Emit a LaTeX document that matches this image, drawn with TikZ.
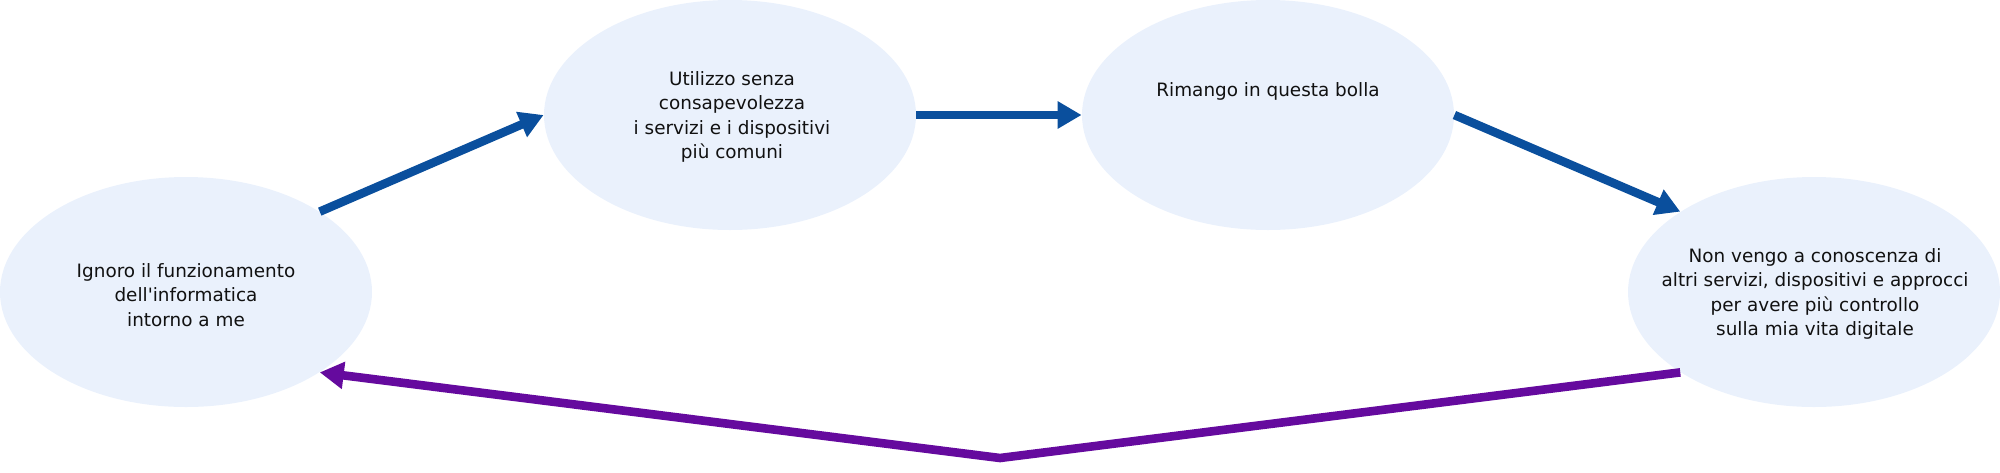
\documentclass[tikz,border=0pt]{standalone}
\usepackage{fontspec}
\setmainfont{DejaVu Sans}[Ligatures=TeXOff]
\usetikzlibrary{shapes.geometric,arrows.meta}
\definecolor{bubble}{HTML}{EAF1FC}
\definecolor{flowblue}{HTML}{0A4F9D}
\definecolor{flowpurple}{HTML}{650A9E}
\definecolor{txt}{HTML}{111111}
\tikzset{
  bubblenode/.style={ellipse, fill=bubble, draw=none, minimum width=186pt, minimum height=115pt, inner sep=0pt},
  labeltext/.style={align=center, text=txt, font=\fontsize{9.2pt}{12.3pt}\selectfont, inner sep=0pt},
  bluearrow/.style={draw=flowblue, line width=4.3pt, -{Triangle[length=12pt,width=13pt]}},
  purplearrow/.style={draw=flowpurple, line width=4.3pt, -{Triangle[length=12pt,width=13pt]}}
}
\begin{document}
\begin{tikzpicture}[x=0.5pt,y=-0.5pt]
\useasboundingbox (0,0) rectangle (2000,472);
\node[bubblenode] (e1) at (186,292) {};
\node[bubblenode] (e2) at (730,115) {};
\node[bubblenode] (e3) at (1268,115) {};
\node[bubblenode] (e4) at (1814,292) {};
\node[labeltext] (t1) at (186,295) {Ignoro il funzionamento\\dell'informatica\\intorno a me};
\node[labeltext] (t2) at (732,117) {Utilizzo senza\\consapevolezza\\i servizi e i dispositivi\\più comuni};
\node[labeltext] (t3) at (1268,91) {Rimango in questa bolla};
\node[labeltext] (t4) at (1815,294) {Non vengo a conoscenza di\\altri servizi, dispositivi e approcci\\per avere più controllo\\sulla mia vita digitale};
\coordinate (b) at (1000,458);
\draw[bluearrow] (e1.31) -- (e2.west);
\draw[bluearrow] (e2.east) -- (e3.west);
\draw[bluearrow] (e3.east) -- (e4.149);
\draw[purplearrow] (e4.211) -- (b) -- (e1.-31);
\end{tikzpicture}
\end{document}
